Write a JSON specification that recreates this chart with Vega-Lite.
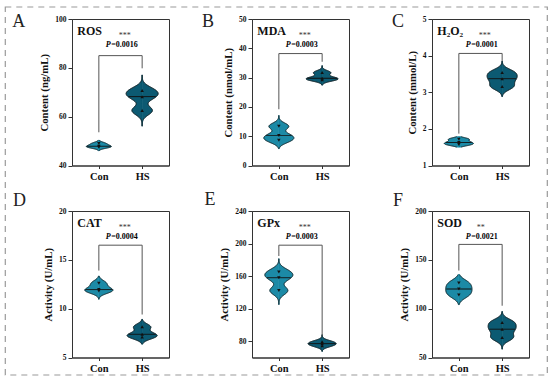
{
"$schema":"https://vega.github.io/schema/vega-lite/v6.json",
"background":"white",
"padding":{"left":4,"top":5,"right":0,"bottom":0},
"bounds":"flush",
"columns":3,
"spacing":{"row":45,"column":83},
"config":{
 "font":"Liberation Serif",
 "view":{"stroke":"#333","strokeWidth":1},
 "axis":{"grid":false,"labelOverlap":false,"labelFont":"Liberation Serif","titleFont":"Liberation Serif","labelFontWeight":"bold","titleFontWeight":"bold","labelColor":"#111","titleColor":"#111","domainColor":"#333","tickColor":"#333","domainWidth":1,"tickWidth":1},
 "axisY":{"labelFontSize":7.5,"titleFontSize":10.8,"tickSize":4,"labelPadding":2,"titlePadding":5},
 "axisX":{"labelFontSize":10.5,"tickSize":3,"labelPadding":3,"labelAngle":0}
},
"concat":[
{"width":97,"height":146.5,
 "data":{"values":[{"group":"Con","value":49.0},{"group":"Con","value":47.9},{"group":"Con","value":47.5},{"group":"HS","value":70.7},{"group":"HS","value":68.2},{"group":"HS","value":62.5}]},
 "resolve":{"scale":{"x":"independent"}},
 "layer":[
  {"layer":[
   {"data":{"values":[{}]},"mark":{"type":"rect","fill":"transparent","stroke":"#9a9a9a","strokeDash":[6,5],"strokeWidth":1.2},"encoding":{"x":{"datum":-3.3233,"type":"quantitative","scale":{"domain":[-0.9538,2.492],"nice":false,"zero":false},"axis":null},"x2":{"datum":15.931},"y":{"datum":104.915,"type":"quantitative","scale":{"domain":[40,100],"nice":false,"zero":false}},"y2":{"datum":-45.8}}},
   {"transform":[{"filter":"datum.group==='Con'"},{"density":"value","bandwidth":0.6,"extent":[46.0,50.4],"steps":120}],"mark":{"type":"area","orient":"horizontal","fill":"#1c8aa6","stroke":"#1c8aa6","strokeWidth":0.5,"opacity":1,"line":{"color":"#111","strokeWidth":0.8,"orient":"horizontal"}},"encoding":{"y":{"field":"value","type":"quantitative","scale":{"domain":[40,100],"nice":false,"zero":false},"axis":{"values":[40,60,80,100],"tickCount":12,"format":"d","labelOverlap":false,"title":"Content (ng/mL)"}},"x":{"field":"density","type":"quantitative","stack":null,"scale":{"domain":[-0.9538,2.492],"nice":false,"zero":false},"axis":null}}}
  ]},
  {"transform":[{"filter":"datum.group==='Con'"},{"density":"value","bandwidth":0.6,"extent":[46.0,50.4],"steps":120}],"mark":{"type":"area","orient":"horizontal","fill":"#1c8aa6","stroke":"#1c8aa6","strokeWidth":0.5,"opacity":1,"line":{"color":"#111","strokeWidth":0.8,"orient":"horizontal"}},"encoding":{"y":{"field":"value","type":"quantitative","scale":{"domain":[40,100],"nice":false,"zero":false}},"x":{"field":"density","type":"quantitative","stack":null,"scale":{"domain":[-2.492,0.9538],"nice":false,"zero":false,"reverse":true},"axis":null}}},
  {"transform":[{"filter":"datum.group==='HS'"},{"density":"value","bandwidth":1.8,"extent":[56.1,77.1],"steps":120}],"mark":{"type":"area","orient":"horizontal","fill":"#0c5a72","stroke":"#0c5a72","strokeWidth":0.5,"opacity":1,"line":{"color":"#111","strokeWidth":0.8,"orient":"horizontal"}},"encoding":{"y":{"field":"value","type":"quantitative","scale":{"domain":[40,100],"nice":false,"zero":false}},"x":{"field":"density","type":"quantitative","stack":null,"scale":{"domain":[-0.50944,0.19499],"nice":false,"zero":false},"axis":null}}},
  {"transform":[{"filter":"datum.group==='HS'"},{"density":"value","bandwidth":1.8,"extent":[56.1,77.1],"steps":120}],"mark":{"type":"area","orient":"horizontal","fill":"#0c5a72","stroke":"#0c5a72","strokeWidth":0.5,"opacity":1,"line":{"color":"#111","strokeWidth":0.8,"orient":"horizontal"}},"encoding":{"y":{"field":"value","type":"quantitative","scale":{"domain":[40,100],"nice":false,"zero":false}},"x":{"field":"density","type":"quantitative","stack":null,"scale":{"domain":[-0.19499,0.50944],"nice":false,"zero":false,"reverse":true},"axis":null}}},
  {"layer":[
   {"mark":{"type":"tick","color":"#111","thickness":0.9,"strokeDash":[3,2]},"encoding":{"x":{"field":"group","type":"nominal","scale":{"type":"point","domain":["Con","HS"],"padding":0.62}},"y":{"aggregate":"median","field":"value","type":"quantitative","scale":{"domain":[40,100],"nice":false,"zero":false}},"size":{"condition":{"test":"datum.group==='Con'","value":23.8},"value":27.2}}},
   {"mark":{"type":"point","filled":true,"color":"#111","size":12,"opacity":1},"encoding":{"x":{"field":"group","type":"nominal","scale":{"type":"point","domain":["Con","HS"],"padding":0.62},"axis":{"title":null}},"y":{"field":"value","type":"quantitative","scale":{"domain":[40,100],"nice":false,"zero":false}},"shape":{"condition":{"test":"datum.group==='Con'","value":"triangle-down"},"value":"triangle-up"}}},
   {"data":{"values":[{}]},"mark":{"type":"rule","color":"#555","strokeWidth":1},"encoding":{"x":{"datum":"Con","type":"nominal","scale":{"type":"point","domain":["Con","HS"],"padding":0.62}},"x2":{"datum":"HS"},"y":{"datum":85,"type":"quantitative","scale":{"domain":[40,100],"nice":false,"zero":false}}}},
   {"data":{"values":[{}]},"mark":{"type":"rule","color":"#555","strokeWidth":1},"encoding":{"x":{"datum":"Con","type":"nominal","scale":{"type":"point","domain":["Con","HS"],"padding":0.62}},"y":{"datum":85,"type":"quantitative","scale":{"domain":[40,100],"nice":false,"zero":false}},"y2":{"datum":53.6}}},
   {"data":{"values":[{}]},"mark":{"type":"rule","color":"#555","strokeWidth":1},"encoding":{"x":{"datum":"HS","type":"nominal","scale":{"type":"point","domain":["Con","HS"],"padding":0.62}},"y":{"datum":85,"type":"quantitative","scale":{"domain":[40,100],"nice":false,"zero":false}},"y2":{"datum":79.8}}},
   {"data":{"values":[{}]},"mark":{"type":"text","text":"ROS","align":"left","baseline":"alphabetic","dx":-21.5,"fontSize":12,"fontWeight":"bold","color":"#111"},"encoding":{"x":{"datum":"Con","type":"nominal","scale":{"type":"point","domain":["Con","HS"],"padding":0.62}},"y":{"datum":93.61,"type":"quantitative","scale":{"domain":[40,100],"nice":false,"zero":false}}}},
   {"data":{"values":[{}]},"mark":{"type":"text","text":"***","align":"center","baseline":"alphabetic","dx":26,"fontSize":8,"color":"#333"},"encoding":{"x":{"datum":"Con","type":"nominal","scale":{"type":"point","domain":["Con","HS"],"padding":0.62}},"y":{"datum":92.3,"type":"quantitative","scale":{"domain":[40,100],"nice":false,"zero":false}}}},
   {"data":{"values":[{}]},"mark":{"type":"text","text":"P","align":"left","baseline":"alphabetic","dx":7,"fontSize":8,"fontWeight":"bold","fontStyle":"italic","color":"#000"},"encoding":{"x":{"datum":"Con","type":"nominal","scale":{"type":"point","domain":["Con","HS"],"padding":0.62}},"y":{"datum":88.41,"type":"quantitative","scale":{"domain":[40,100],"nice":false,"zero":false}}}},
   {"data":{"values":[{}]},"mark":{"type":"text","text":"=0.0016","align":"left","baseline":"alphabetic","dx":12.4,"fontSize":8,"fontWeight":"bold","color":"#000"},"encoding":{"x":{"datum":"Con","type":"nominal","scale":{"type":"point","domain":["Con","HS"],"padding":0.62}},"y":{"datum":88.41,"type":"quantitative","scale":{"domain":[40,100],"nice":false,"zero":false}}}},
   {"data":{"values":[{}]},"mark":{"type":"text","text":"A","align":"left","baseline":"alphabetic","dx":-86.5,"fontSize":18,"color":"#222"},"encoding":{"x":{"datum":"Con","type":"nominal","scale":{"type":"point","domain":["Con","HS"],"padding":0.62}},"y":{"datum":96.6,"type":"quantitative","scale":{"domain":[40,100],"nice":false,"zero":false}}}}
  ]}
 ]},
{"width":97,"height":146.5,
 "data":{"values":[{"group":"Con","value":13.4},{"group":"Con","value":10.2},{"group":"Con","value":8.6},{"group":"HS","value":31.7},{"group":"HS","value":29.8},{"group":"HS","value":29.3}]},
 "resolve":{"scale":{"x":"independent"}},
 "layer":[
  {"transform":[{"filter":"datum.group==='Con'"},{"density":"value","bandwidth":1.1,"extent":[5.7,17.1],"steps":120}],"mark":{"type":"area","orient":"horizontal","fill":"#1c8aa6","stroke":"#1c8aa6","strokeWidth":0.5,"opacity":1,"line":{"color":"#111","strokeWidth":0.8,"orient":"horizontal"}},"encoding":{"y":{"field":"value","type":"quantitative","scale":{"domain":[0,50],"nice":false,"zero":false},"axis":{"values":[0,10,20,30,40,50],"tickCount":12,"format":"d","labelOverlap":false,"title":"Content (nmol/mL)"}},"x":{"field":"density","type":"quantitative","stack":null,"scale":{"domain":[-0.3323,0.8682],"nice":false,"zero":false},"axis":null}}},
  {"transform":[{"filter":"datum.group==='Con'"},{"density":"value","bandwidth":1.1,"extent":[5.7,17.1],"steps":120}],"mark":{"type":"area","orient":"horizontal","fill":"#1c8aa6","stroke":"#1c8aa6","strokeWidth":0.5,"opacity":1,"line":{"color":"#111","strokeWidth":0.8,"orient":"horizontal"}},"encoding":{"y":{"field":"value","type":"quantitative","scale":{"domain":[0,50],"nice":false,"zero":false}},"x":{"field":"density","type":"quantitative","stack":null,"scale":{"domain":[-0.8682,0.3323],"nice":false,"zero":false,"reverse":true},"axis":null}}},
  {"transform":[{"filter":"datum.group==='HS'"},{"density":"value","bandwidth":0.7,"extent":[27.4,34.1],"steps":120}],"mark":{"type":"area","orient":"horizontal","fill":"#0c5a72","stroke":"#0c5a72","strokeWidth":0.5,"opacity":1,"line":{"color":"#111","strokeWidth":0.8,"orient":"horizontal"}},"encoding":{"y":{"field":"value","type":"quantitative","scale":{"domain":[0,50],"nice":false,"zero":false}},"x":{"field":"density","type":"quantitative","stack":null,"scale":{"domain":[-1.5694,0.6007],"nice":false,"zero":false},"axis":null}}},
  {"transform":[{"filter":"datum.group==='HS'"},{"density":"value","bandwidth":0.7,"extent":[27.4,34.1],"steps":120}],"mark":{"type":"area","orient":"horizontal","fill":"#0c5a72","stroke":"#0c5a72","strokeWidth":0.5,"opacity":1,"line":{"color":"#111","strokeWidth":0.8,"orient":"horizontal"}},"encoding":{"y":{"field":"value","type":"quantitative","scale":{"domain":[0,50],"nice":false,"zero":false}},"x":{"field":"density","type":"quantitative","stack":null,"scale":{"domain":[-0.6007,1.5694],"nice":false,"zero":false,"reverse":true},"axis":null}}},
  {"layer":[
   {"mark":{"type":"tick","color":"#111","thickness":0.9,"strokeDash":[3,2]},"encoding":{"x":{"field":"group","type":"nominal","scale":{"type":"point","domain":["Con","HS"],"padding":0.62}},"y":{"aggregate":"median","field":"value","type":"quantitative","scale":{"domain":[0,50],"nice":false,"zero":false}},"size":{"condition":{"test":"datum.group==='Con'","value":25.6},"value":29.6}}},
   {"mark":{"type":"point","filled":true,"color":"#111","size":12,"opacity":1},"encoding":{"x":{"field":"group","type":"nominal","scale":{"type":"point","domain":["Con","HS"],"padding":0.62},"axis":{"title":null}},"y":{"field":"value","type":"quantitative","scale":{"domain":[0,50],"nice":false,"zero":false}},"shape":{"condition":{"test":"datum.group==='Con'","value":"triangle-down"},"value":"triangle-up"}}},
   {"data":{"values":[{}]},"mark":{"type":"rule","color":"#555","strokeWidth":1},"encoding":{"x":{"datum":"Con","type":"nominal","scale":{"type":"point","domain":["Con","HS"],"padding":0.62}},"x2":{"datum":"HS"},"y":{"datum":38.2,"type":"quantitative","scale":{"domain":[0,50],"nice":false,"zero":false}}}},
   {"data":{"values":[{}]},"mark":{"type":"rule","color":"#555","strokeWidth":1},"encoding":{"x":{"datum":"Con","type":"nominal","scale":{"type":"point","domain":["Con","HS"],"padding":0.62}},"y":{"datum":38.2,"type":"quantitative","scale":{"domain":[0,50],"nice":false,"zero":false}},"y2":{"datum":19.2}}},
   {"data":{"values":[{}]},"mark":{"type":"rule","color":"#555","strokeWidth":1},"encoding":{"x":{"datum":"HS","type":"nominal","scale":{"type":"point","domain":["Con","HS"],"padding":0.62}},"y":{"datum":38.2,"type":"quantitative","scale":{"domain":[0,50],"nice":false,"zero":false}},"y2":{"datum":35.4}}},
   {"data":{"values":[{}]},"mark":{"type":"text","text":"MDA","align":"left","baseline":"alphabetic","dx":-21.5,"fontSize":12,"fontWeight":"bold","color":"#111"},"encoding":{"x":{"datum":"Con","type":"nominal","scale":{"type":"point","domain":["Con","HS"],"padding":0.62}},"y":{"datum":44.68,"type":"quantitative","scale":{"domain":[0,50],"nice":false,"zero":false}}}},
   {"data":{"values":[{}]},"mark":{"type":"text","text":"***","align":"center","baseline":"alphabetic","dx":26,"fontSize":8,"color":"#333"},"encoding":{"x":{"datum":"Con","type":"nominal","scale":{"type":"point","domain":["Con","HS"],"padding":0.62}},"y":{"datum":43.58,"type":"quantitative","scale":{"domain":[0,50],"nice":false,"zero":false}}}},
   {"data":{"values":[{}]},"mark":{"type":"text","text":"P","align":"left","baseline":"alphabetic","dx":7,"fontSize":8,"fontWeight":"bold","fontStyle":"italic","color":"#000"},"encoding":{"x":{"datum":"Con","type":"nominal","scale":{"type":"point","domain":["Con","HS"],"padding":0.62}},"y":{"datum":40.34,"type":"quantitative","scale":{"domain":[0,50],"nice":false,"zero":false}}}},
   {"data":{"values":[{}]},"mark":{"type":"text","text":"=0.0003","align":"left","baseline":"alphabetic","dx":12.4,"fontSize":8,"fontWeight":"bold","color":"#000"},"encoding":{"x":{"datum":"Con","type":"nominal","scale":{"type":"point","domain":["Con","HS"],"padding":0.62}},"y":{"datum":40.34,"type":"quantitative","scale":{"domain":[0,50],"nice":false,"zero":false}}}},
   {"data":{"values":[{}]},"mark":{"type":"text","text":"B","align":"left","baseline":"alphabetic","dx":-76.9,"fontSize":18,"color":"#222"},"encoding":{"x":{"datum":"Con","type":"nominal","scale":{"type":"point","domain":["Con","HS"],"padding":0.62}},"y":{"datum":47.27,"type":"quantitative","scale":{"domain":[0,50],"nice":false,"zero":false}}}}
  ]}
 ]},
{"width":97,"height":146.5,
 "data":{"values":[{"group":"Con","value":1.72},{"group":"Con","value":1.63},{"group":"Con","value":1.57},{"group":"HS","value":3.54},{"group":"HS","value":3.37},{"group":"HS","value":3.16}]},
 "resolve":{"scale":{"x":"independent"}},
 "layer":[
  {"transform":[{"filter":"datum.group==='Con'"},{"density":"value","bandwidth":0.04,"extent":[1.5,1.79],"steps":120}],"mark":{"type":"area","orient":"horizontal","fill":"#1c8aa6","stroke":"#1c8aa6","strokeWidth":0.5,"opacity":1,"line":{"color":"#111","strokeWidth":0.8,"orient":"horizontal"}},"encoding":{"y":{"field":"value","type":"quantitative","scale":{"domain":[1,5],"nice":false,"zero":false},"axis":{"values":[1,2,3,4,5],"tickCount":12,"format":"d","labelOverlap":false,"title":"Content (mmol/L)"}},"x":{"field":"density","type":"quantitative","stack":null,"scale":{"domain":[-9.365,24.468],"nice":false,"zero":false},"axis":null}}},
  {"transform":[{"filter":"datum.group==='Con'"},{"density":"value","bandwidth":0.04,"extent":[1.5,1.79],"steps":120}],"mark":{"type":"area","orient":"horizontal","fill":"#1c8aa6","stroke":"#1c8aa6","strokeWidth":0.5,"opacity":1,"line":{"color":"#111","strokeWidth":0.8,"orient":"horizontal"}},"encoding":{"y":{"field":"value","type":"quantitative","scale":{"domain":[1,5],"nice":false,"zero":false}},"x":{"field":"density","type":"quantitative","stack":null,"scale":{"domain":[-24.468,9.365],"nice":false,"zero":false,"reverse":true},"axis":null}}},
  {"transform":[{"filter":"datum.group==='HS'"},{"density":"value","bandwidth":0.1,"extent":[2.88,3.85],"steps":120}],"mark":{"type":"area","orient":"horizontal","fill":"#0c5a72","stroke":"#0c5a72","strokeWidth":0.5,"opacity":1,"line":{"color":"#111","strokeWidth":0.8,"orient":"horizontal"}},"encoding":{"y":{"field":"value","type":"quantitative","scale":{"domain":[1,5],"nice":false,"zero":false}},"x":{"field":"density","type":"quantitative","stack":null,"scale":{"domain":[-8.75,3.349],"nice":false,"zero":false},"axis":null}}},
  {"transform":[{"filter":"datum.group==='HS'"},{"density":"value","bandwidth":0.1,"extent":[2.88,3.85],"steps":120}],"mark":{"type":"area","orient":"horizontal","fill":"#0c5a72","stroke":"#0c5a72","strokeWidth":0.5,"opacity":1,"line":{"color":"#111","strokeWidth":0.8,"orient":"horizontal"}},"encoding":{"y":{"field":"value","type":"quantitative","scale":{"domain":[1,5],"nice":false,"zero":false}},"x":{"field":"density","type":"quantitative","stack":null,"scale":{"domain":[-3.349,8.75],"nice":false,"zero":false,"reverse":true},"axis":null}}},
  {"layer":[
   {"mark":{"type":"tick","color":"#111","thickness":0.9,"strokeDash":[3,2]},"encoding":{"x":{"field":"group","type":"nominal","scale":{"type":"point","domain":["Con","HS"],"padding":0.62}},"y":{"aggregate":"median","field":"value","type":"quantitative","scale":{"domain":[1,5],"nice":false,"zero":false}},"size":{"condition":{"test":"datum.group==='Con'","value":25.8},"value":27.7}}},
   {"mark":{"type":"point","filled":true,"color":"#111","size":12,"opacity":1},"encoding":{"x":{"field":"group","type":"nominal","scale":{"type":"point","domain":["Con","HS"],"padding":0.62},"axis":{"title":null}},"y":{"field":"value","type":"quantitative","scale":{"domain":[1,5],"nice":false,"zero":false}},"shape":{"condition":{"test":"datum.group==='Con'","value":"triangle-down"},"value":"triangle-up"}}},
   {"data":{"values":[{}]},"mark":{"type":"rule","color":"#555","strokeWidth":1},"encoding":{"x":{"datum":"Con","type":"nominal","scale":{"type":"point","domain":["Con","HS"],"padding":0.62}},"x2":{"datum":"HS"},"y":{"datum":4.06,"type":"quantitative","scale":{"domain":[1,5],"nice":false,"zero":false}}}},
   {"data":{"values":[{}]},"mark":{"type":"rule","color":"#555","strokeWidth":1},"encoding":{"x":{"datum":"Con","type":"nominal","scale":{"type":"point","domain":["Con","HS"],"padding":0.62}},"y":{"datum":4.06,"type":"quantitative","scale":{"domain":[1,5],"nice":false,"zero":false}},"y2":{"datum":1.87}}},
   {"data":{"values":[{}]},"mark":{"type":"rule","color":"#555","strokeWidth":1},"encoding":{"x":{"datum":"HS","type":"nominal","scale":{"type":"point","domain":["Con","HS"],"padding":0.62}},"y":{"datum":4.06,"type":"quantitative","scale":{"domain":[1,5],"nice":false,"zero":false}},"y2":{"datum":3.85}}},
   {"data":{"values":[{}]},"mark":{"type":"text","text":"H₂O₂","align":"left","baseline":"alphabetic","dx":-21.5,"fontSize":12,"fontWeight":"bold","color":"#111"},"encoding":{"x":{"datum":"Con","type":"nominal","scale":{"type":"point","domain":["Con","HS"],"padding":0.62}},"y":{"datum":4.574,"type":"quantitative","scale":{"domain":[1,5],"nice":false,"zero":false}}}},
   {"data":{"values":[{}]},"mark":{"type":"text","text":"***","align":"center","baseline":"alphabetic","dx":26,"fontSize":8,"color":"#333"},"encoding":{"x":{"datum":"Con","type":"nominal","scale":{"type":"point","domain":["Con","HS"],"padding":0.62}},"y":{"datum":4.487,"type":"quantitative","scale":{"domain":[1,5],"nice":false,"zero":false}}}},
   {"data":{"values":[{}]},"mark":{"type":"text","text":"P","align":"left","baseline":"alphabetic","dx":7,"fontSize":8,"fontWeight":"bold","fontStyle":"italic","color":"#000"},"encoding":{"x":{"datum":"Con","type":"nominal","scale":{"type":"point","domain":["Con","HS"],"padding":0.62}},"y":{"datum":4.227,"type":"quantitative","scale":{"domain":[1,5],"nice":false,"zero":false}}}},
   {"data":{"values":[{}]},"mark":{"type":"text","text":"=0.0001","align":"left","baseline":"alphabetic","dx":12.4,"fontSize":8,"fontWeight":"bold","color":"#000"},"encoding":{"x":{"datum":"Con","type":"nominal","scale":{"type":"point","domain":["Con","HS"],"padding":0.62}},"y":{"datum":4.227,"type":"quantitative","scale":{"domain":[1,5],"nice":false,"zero":false}}}},
   {"data":{"values":[{}]},"mark":{"type":"text","text":"C","align":"left","baseline":"alphabetic","dx":-66.9,"fontSize":18,"color":"#222"},"encoding":{"x":{"datum":"Con","type":"nominal","scale":{"type":"point","domain":["Con","HS"],"padding":0.62}},"y":{"datum":4.78,"type":"quantitative","scale":{"domain":[1,5],"nice":false,"zero":false}}}}
  ]}
 ]},
{"width":97,"height":146.5,
 "data":{"values":[{"group":"Con","value":12.6},{"group":"Con","value":11.95},{"group":"Con","value":11.8},{"group":"HS","value":8.14},{"group":"HS","value":7.38},{"group":"HS","value":7.1}]},
 "resolve":{"scale":{"x":"independent"}},
 "layer":[
  {"transform":[{"filter":"datum.group==='Con'"},{"density":"value","bandwidth":0.3,"extent":[10.96,13.35],"steps":120}],"mark":{"type":"area","orient":"horizontal","fill":"#1c8aa6","stroke":"#1c8aa6","strokeWidth":0.5,"opacity":1,"line":{"color":"#111","strokeWidth":0.8,"orient":"horizontal"}},"encoding":{"y":{"field":"value","type":"quantitative","scale":{"domain":[5,20],"nice":false,"zero":false},"axis":{"values":[5,10,15,20],"tickCount":12,"format":"d","labelOverlap":false,"title":"Activity (U/mL)"}},"x":{"field":"density","type":"quantitative","stack":null,"scale":{"domain":[-1.692,4.42],"nice":false,"zero":false},"axis":null}}},
  {"transform":[{"filter":"datum.group==='Con'"},{"density":"value","bandwidth":0.3,"extent":[10.96,13.35],"steps":120}],"mark":{"type":"area","orient":"horizontal","fill":"#1c8aa6","stroke":"#1c8aa6","strokeWidth":0.5,"opacity":1,"line":{"color":"#111","strokeWidth":0.8,"orient":"horizontal"}},"encoding":{"y":{"field":"value","type":"quantitative","scale":{"domain":[5,20],"nice":false,"zero":false}},"x":{"field":"density","type":"quantitative","stack":null,"scale":{"domain":[-4.42,1.692],"nice":false,"zero":false,"reverse":true},"axis":null}}},
  {"transform":[{"filter":"datum.group==='HS'"},{"density":"value","bandwidth":0.3,"extent":[6.36,8.92],"steps":120}],"mark":{"type":"area","orient":"horizontal","fill":"#0c5a72","stroke":"#0c5a72","strokeWidth":0.5,"opacity":1,"line":{"color":"#111","strokeWidth":0.8,"orient":"horizontal"}},"encoding":{"y":{"field":"value","type":"quantitative","scale":{"domain":[5,20],"nice":false,"zero":false}},"x":{"field":"density","type":"quantitative","stack":null,"scale":{"domain":[-3.741,1.432],"nice":false,"zero":false},"axis":null}}},
  {"transform":[{"filter":"datum.group==='HS'"},{"density":"value","bandwidth":0.3,"extent":[6.36,8.92],"steps":120}],"mark":{"type":"area","orient":"horizontal","fill":"#0c5a72","stroke":"#0c5a72","strokeWidth":0.5,"opacity":1,"line":{"color":"#111","strokeWidth":0.8,"orient":"horizontal"}},"encoding":{"y":{"field":"value","type":"quantitative","scale":{"domain":[5,20],"nice":false,"zero":false}},"x":{"field":"density","type":"quantitative","stack":null,"scale":{"domain":[-1.432,3.741],"nice":false,"zero":false,"reverse":true},"axis":null}}},
  {"layer":[
   {"mark":{"type":"tick","color":"#111","thickness":0.9,"strokeDash":[3,2]},"encoding":{"x":{"field":"group","type":"nominal","scale":{"type":"point","domain":["Con","HS"],"padding":0.62}},"y":{"aggregate":"median","field":"value","type":"quantitative","scale":{"domain":[5,20],"nice":false,"zero":false}},"size":{"condition":{"test":"datum.group==='Con'","value":26.8},"value":27}}},
   {"mark":{"type":"point","filled":true,"color":"#111","size":12,"opacity":1},"encoding":{"x":{"field":"group","type":"nominal","scale":{"type":"point","domain":["Con","HS"],"padding":0.62},"axis":{"title":null}},"y":{"field":"value","type":"quantitative","scale":{"domain":[5,20],"nice":false,"zero":false}},"shape":{"condition":{"test":"datum.group==='Con'","value":"triangle-down"},"value":"triangle-up"}}},
   {"data":{"values":[{}]},"mark":{"type":"rule","color":"#555","strokeWidth":1},"encoding":{"x":{"datum":"Con","type":"nominal","scale":{"type":"point","domain":["Con","HS"],"padding":0.62}},"x2":{"datum":"HS"},"y":{"datum":16.5,"type":"quantitative","scale":{"domain":[5,20],"nice":false,"zero":false}}}},
   {"data":{"values":[{}]},"mark":{"type":"rule","color":"#555","strokeWidth":1},"encoding":{"x":{"datum":"Con","type":"nominal","scale":{"type":"point","domain":["Con","HS"],"padding":0.62}},"y":{"datum":16.5,"type":"quantitative","scale":{"domain":[5,20],"nice":false,"zero":false}},"y2":{"datum":13.9}}},
   {"data":{"values":[{}]},"mark":{"type":"rule","color":"#555","strokeWidth":1},"encoding":{"x":{"datum":"HS","type":"nominal","scale":{"type":"point","domain":["Con","HS"],"padding":0.62}},"y":{"datum":16.5,"type":"quantitative","scale":{"domain":[5,20],"nice":false,"zero":false}},"y2":{"datum":9.4}}},
   {"data":{"values":[{}]},"mark":{"type":"text","text":"CAT","align":"left","baseline":"alphabetic","dx":-21.5,"fontSize":12,"fontWeight":"bold","color":"#111"},"encoding":{"x":{"datum":"Con","type":"nominal","scale":{"type":"point","domain":["Con","HS"],"padding":0.62}},"y":{"datum":18.4,"type":"quantitative","scale":{"domain":[5,20],"nice":false,"zero":false}}}},
   {"data":{"values":[{}]},"mark":{"type":"text","text":"***","align":"center","baseline":"alphabetic","dx":26,"fontSize":8,"color":"#333"},"encoding":{"x":{"datum":"Con","type":"nominal","scale":{"type":"point","domain":["Con","HS"],"padding":0.62}},"y":{"datum":18.07,"type":"quantitative","scale":{"domain":[5,20],"nice":false,"zero":false}}}},
   {"data":{"values":[{}]},"mark":{"type":"text","text":"P","align":"left","baseline":"alphabetic","dx":7,"fontSize":8,"fontWeight":"bold","fontStyle":"italic","color":"#000"},"encoding":{"x":{"datum":"Con","type":"nominal","scale":{"type":"point","domain":["Con","HS"],"padding":0.62}},"y":{"datum":17.1,"type":"quantitative","scale":{"domain":[5,20],"nice":false,"zero":false}}}},
   {"data":{"values":[{}]},"mark":{"type":"text","text":"=0.0004","align":"left","baseline":"alphabetic","dx":12.4,"fontSize":8,"fontWeight":"bold","color":"#000"},"encoding":{"x":{"datum":"Con","type":"nominal","scale":{"type":"point","domain":["Con","HS"],"padding":0.62}},"y":{"datum":17.1,"type":"quantitative","scale":{"domain":[5,20],"nice":false,"zero":false}}}},
   {"data":{"values":[{}]},"mark":{"type":"text","text":"D","align":"left","baseline":"alphabetic","dx":-85.9,"fontSize":18,"color":"#222"},"encoding":{"x":{"datum":"Con","type":"nominal","scale":{"type":"point","domain":["Con","HS"],"padding":0.62}},"y":{"datum":20.53,"type":"quantitative","scale":{"domain":[5,20],"nice":false,"zero":false}}}}
  ]}
 ]},
{"width":97,"height":146.5,
 "data":{"values":[{"group":"Con","value":165},{"group":"Con","value":158},{"group":"Con","value":142.2},{"group":"HS","value":79.5},{"group":"HS","value":77},{"group":"HS","value":74.5}]},
 "resolve":{"scale":{"x":"independent"}},
 "layer":[
  {"transform":[{"filter":"datum.group==='Con'"},{"density":"value","bandwidth":5,"extent":[125,181.4],"steps":120}],"mark":{"type":"area","orient":"horizontal","fill":"#1c8aa6","stroke":"#1c8aa6","strokeWidth":0.5,"opacity":1,"line":{"color":"#111","strokeWidth":0.8,"orient":"horizontal"}},"encoding":{"y":{"field":"value","type":"quantitative","scale":{"domain":[60,240],"nice":false,"zero":false},"axis":{"values":[80,120,160,200,240],"tickCount":12,"format":"d","labelOverlap":false,"title":"Activity (U/mL)"}},"x":{"field":"density","type":"quantitative","stack":null,"scale":{"domain":[-0.07989,0.20872],"nice":false,"zero":false},"axis":null}}},
  {"transform":[{"filter":"datum.group==='Con'"},{"density":"value","bandwidth":5,"extent":[125,181.4],"steps":120}],"mark":{"type":"area","orient":"horizontal","fill":"#1c8aa6","stroke":"#1c8aa6","strokeWidth":0.5,"opacity":1,"line":{"color":"#111","strokeWidth":0.8,"orient":"horizontal"}},"encoding":{"y":{"field":"value","type":"quantitative","scale":{"domain":[60,240],"nice":false,"zero":false}},"x":{"field":"density","type":"quantitative","stack":null,"scale":{"domain":[-0.20872,0.07989],"nice":false,"zero":false,"reverse":true},"axis":null}}},
  {"transform":[{"filter":"datum.group==='HS'"},{"density":"value","bandwidth":2.5,"extent":[67.4,88],"steps":120}],"mark":{"type":"area","orient":"horizontal","fill":"#0c5a72","stroke":"#0c5a72","strokeWidth":0.5,"opacity":1,"line":{"color":"#111","strokeWidth":0.8,"orient":"horizontal"}},"encoding":{"y":{"field":"value","type":"quantitative","scale":{"domain":[60,240],"nice":false,"zero":false}},"x":{"field":"density","type":"quantitative","stack":null,"scale":{"domain":[-0.58999,0.22582],"nice":false,"zero":false},"axis":null}}},
  {"transform":[{"filter":"datum.group==='HS'"},{"density":"value","bandwidth":2.5,"extent":[67.4,88],"steps":120}],"mark":{"type":"area","orient":"horizontal","fill":"#0c5a72","stroke":"#0c5a72","strokeWidth":0.5,"opacity":1,"line":{"color":"#111","strokeWidth":0.8,"orient":"horizontal"}},"encoding":{"y":{"field":"value","type":"quantitative","scale":{"domain":[60,240],"nice":false,"zero":false}},"x":{"field":"density","type":"quantitative","stack":null,"scale":{"domain":[-0.22582,0.58999],"nice":false,"zero":false,"reverse":true},"axis":null}}},
  {"layer":[
   {"mark":{"type":"tick","color":"#111","thickness":0.9,"strokeDash":[3,2]},"encoding":{"x":{"field":"group","type":"nominal","scale":{"type":"point","domain":["Con","HS"],"padding":0.62}},"y":{"aggregate":"median","field":"value","type":"quantitative","scale":{"domain":[60,240],"nice":false,"zero":false}},"size":{"condition":{"test":"datum.group==='Con'","value":23.7},"value":27}}},
   {"mark":{"type":"point","filled":true,"color":"#111","size":12,"opacity":1},"encoding":{"x":{"field":"group","type":"nominal","scale":{"type":"point","domain":["Con","HS"],"padding":0.62},"axis":{"title":null}},"y":{"field":"value","type":"quantitative","scale":{"domain":[60,240],"nice":false,"zero":false}},"shape":{"condition":{"test":"datum.group==='Con'","value":"triangle-down"},"value":"triangle-up"}}},
   {"data":{"values":[{}]},"mark":{"type":"rule","color":"#555","strokeWidth":1},"encoding":{"x":{"datum":"Con","type":"nominal","scale":{"type":"point","domain":["Con","HS"],"padding":0.62}},"x2":{"datum":"HS"},"y":{"datum":198,"type":"quantitative","scale":{"domain":[60,240],"nice":false,"zero":false}}}},
   {"data":{"values":[{}]},"mark":{"type":"rule","color":"#555","strokeWidth":1},"encoding":{"x":{"datum":"Con","type":"nominal","scale":{"type":"point","domain":["Con","HS"],"padding":0.62}},"y":{"datum":198,"type":"quantitative","scale":{"domain":[60,240],"nice":false,"zero":false}},"y2":{"datum":184.7}}},
   {"data":{"values":[{}]},"mark":{"type":"rule","color":"#555","strokeWidth":1},"encoding":{"x":{"datum":"HS","type":"nominal","scale":{"type":"point","domain":["Con","HS"],"padding":0.62}},"y":{"datum":198,"type":"quantitative","scale":{"domain":[60,240],"nice":false,"zero":false}},"y2":{"datum":86}}},
   {"data":{"values":[{}]},"mark":{"type":"text","text":"GPx","align":"left","baseline":"alphabetic","dx":-21.5,"fontSize":12,"fontWeight":"bold","color":"#111"},"encoding":{"x":{"datum":"Con","type":"nominal","scale":{"type":"point","domain":["Con","HS"],"padding":0.62}},"y":{"datum":220.83,"type":"quantitative","scale":{"domain":[60,240],"nice":false,"zero":false}}}},
   {"data":{"values":[{}]},"mark":{"type":"text","text":"***","align":"center","baseline":"alphabetic","dx":26,"fontSize":8,"color":"#333"},"encoding":{"x":{"datum":"Con","type":"nominal","scale":{"type":"point","domain":["Con","HS"],"padding":0.62}},"y":{"datum":216.9,"type":"quantitative","scale":{"domain":[60,240],"nice":false,"zero":false}}}},
   {"data":{"values":[{}]},"mark":{"type":"text","text":"P","align":"left","baseline":"alphabetic","dx":7,"fontSize":8,"fontWeight":"bold","fontStyle":"italic","color":"#000"},"encoding":{"x":{"datum":"Con","type":"nominal","scale":{"type":"point","domain":["Con","HS"],"padding":0.62}},"y":{"datum":205.23,"type":"quantitative","scale":{"domain":[60,240],"nice":false,"zero":false}}}},
   {"data":{"values":[{}]},"mark":{"type":"text","text":"=0.0003","align":"left","baseline":"alphabetic","dx":12.4,"fontSize":8,"fontWeight":"bold","color":"#000"},"encoding":{"x":{"datum":"Con","type":"nominal","scale":{"type":"point","domain":["Con","HS"],"padding":0.62}},"y":{"datum":205.23,"type":"quantitative","scale":{"domain":[60,240],"nice":false,"zero":false}}}},
   {"data":{"values":[{}]},"mark":{"type":"text","text":"E","align":"left","baseline":"alphabetic","dx":-74.3,"fontSize":18,"color":"#222"},"encoding":{"x":{"datum":"Con","type":"nominal","scale":{"type":"point","domain":["Con","HS"],"padding":0.62}},"y":{"datum":246.76,"type":"quantitative","scale":{"domain":[60,240],"nice":false,"zero":false}}}}
  ]}
 ]},
{"width":97,"height":146.5,
 "data":{"values":[{"group":"Con","value":126.3},{"group":"Con","value":120.1},{"group":"Con","value":114},{"group":"HS","value":85.9},{"group":"HS","value":79},{"group":"HS","value":70.5}]},
 "resolve":{"scale":{"x":"independent"}},
 "layer":[
  {"transform":[{"filter":"datum.group==='Con'"},{"density":"value","bandwidth":4,"extent":[104,134.9],"steps":120}],"mark":{"type":"area","orient":"horizontal","fill":"#1c8aa6","stroke":"#1c8aa6","strokeWidth":0.5,"opacity":1,"line":{"color":"#111","strokeWidth":0.8,"orient":"horizontal"}},"encoding":{"y":{"field":"value","type":"quantitative","scale":{"domain":[50,200],"nice":false,"zero":false},"axis":{"values":[50,100,150,200],"tickCount":12,"format":"d","labelOverlap":false,"title":"Activity (U/mL)"}},"x":{"field":"density","type":"quantitative","stack":null,"scale":{"domain":[-0.10986,0.28703],"nice":false,"zero":false},"axis":null}}},
  {"transform":[{"filter":"datum.group==='Con'"},{"density":"value","bandwidth":4,"extent":[104,134.9],"steps":120}],"mark":{"type":"area","orient":"horizontal","fill":"#1c8aa6","stroke":"#1c8aa6","strokeWidth":0.5,"opacity":1,"line":{"color":"#111","strokeWidth":0.8,"orient":"horizontal"}},"encoding":{"y":{"field":"value","type":"quantitative","scale":{"domain":[50,200],"nice":false,"zero":false}},"x":{"field":"density","type":"quantitative","stack":null,"scale":{"domain":[-0.28703,0.10986],"nice":false,"zero":false,"reverse":true},"axis":null}}},
  {"transform":[{"filter":"datum.group==='HS'"},{"density":"value","bandwidth":3.8,"extent":[58.5,97.2],"steps":120}],"mark":{"type":"area","orient":"horizontal","fill":"#0c5a72","stroke":"#0c5a72","strokeWidth":0.5,"opacity":1,"line":{"color":"#111","strokeWidth":0.8,"orient":"horizontal"}},"encoding":{"y":{"field":"value","type":"quantitative","scale":{"domain":[50,200],"nice":false,"zero":false}},"x":{"field":"density","type":"quantitative","stack":null,"scale":{"domain":[-0.23407,0.08959],"nice":false,"zero":false},"axis":null}}},
  {"transform":[{"filter":"datum.group==='HS'"},{"density":"value","bandwidth":3.8,"extent":[58.5,97.2],"steps":120}],"mark":{"type":"area","orient":"horizontal","fill":"#0c5a72","stroke":"#0c5a72","strokeWidth":0.5,"opacity":1,"line":{"color":"#111","strokeWidth":0.8,"orient":"horizontal"}},"encoding":{"y":{"field":"value","type":"quantitative","scale":{"domain":[50,200],"nice":false,"zero":false}},"x":{"field":"density","type":"quantitative","stack":null,"scale":{"domain":[-0.08959,0.23407],"nice":false,"zero":false,"reverse":true},"axis":null}}},
  {"layer":[
   {"mark":{"type":"tick","color":"#111","thickness":0.9,"strokeDash":[3,2]},"encoding":{"x":{"field":"group","type":"nominal","scale":{"type":"point","domain":["Con","HS"],"padding":0.62}},"y":{"aggregate":"median","field":"value","type":"quantitative","scale":{"domain":[50,200],"nice":false,"zero":false}},"size":{"condition":{"test":"datum.group==='Con'","value":25},"value":25.7}}},
   {"mark":{"type":"point","filled":true,"color":"#111","size":12,"opacity":1},"encoding":{"x":{"field":"group","type":"nominal","scale":{"type":"point","domain":["Con","HS"],"padding":0.62},"axis":{"title":null}},"y":{"field":"value","type":"quantitative","scale":{"domain":[50,200],"nice":false,"zero":false}},"shape":{"condition":{"test":"datum.group==='Con'","value":"triangle-down"},"value":"triangle-up"}}},
   {"data":{"values":[{}]},"mark":{"type":"rule","color":"#555","strokeWidth":1},"encoding":{"x":{"datum":"Con","type":"nominal","scale":{"type":"point","domain":["Con","HS"],"padding":0.62}},"x2":{"datum":"HS"},"y":{"datum":165.8,"type":"quantitative","scale":{"domain":[50,200],"nice":false,"zero":false}}}},
   {"data":{"values":[{}]},"mark":{"type":"rule","color":"#555","strokeWidth":1},"encoding":{"x":{"datum":"Con","type":"nominal","scale":{"type":"point","domain":["Con","HS"],"padding":0.62}},"y":{"datum":165.8,"type":"quantitative","scale":{"domain":[50,200],"nice":false,"zero":false}},"y2":{"datum":139}}},
   {"data":{"values":[{}]},"mark":{"type":"rule","color":"#555","strokeWidth":1},"encoding":{"x":{"datum":"HS","type":"nominal","scale":{"type":"point","domain":["Con","HS"],"padding":0.62}},"y":{"datum":165.8,"type":"quantitative","scale":{"domain":[50,200],"nice":false,"zero":false}},"y2":{"datum":103}}},
   {"data":{"values":[{}]},"mark":{"type":"text","text":"SOD","align":"left","baseline":"alphabetic","dx":-21.5,"fontSize":12,"fontWeight":"bold","color":"#111"},"encoding":{"x":{"datum":"Con","type":"nominal","scale":{"type":"point","domain":["Con","HS"],"padding":0.62}},"y":{"datum":184.03,"type":"quantitative","scale":{"domain":[50,200],"nice":false,"zero":false}}}},
   {"data":{"values":[{}]},"mark":{"type":"text","text":"**","align":"center","baseline":"alphabetic","dx":22,"fontSize":8,"color":"#333"},"encoding":{"x":{"datum":"Con","type":"nominal","scale":{"type":"point","domain":["Con","HS"],"padding":0.62}},"y":{"datum":180.75,"type":"quantitative","scale":{"domain":[50,200],"nice":false,"zero":false}}}},
   {"data":{"values":[{}]},"mark":{"type":"text","text":"P","align":"left","baseline":"alphabetic","dx":7,"fontSize":8,"fontWeight":"bold","fontStyle":"italic","color":"#000"},"encoding":{"x":{"datum":"Con","type":"nominal","scale":{"type":"point","domain":["Con","HS"],"padding":0.62}},"y":{"datum":171.02,"type":"quantitative","scale":{"domain":[50,200],"nice":false,"zero":false}}}},
   {"data":{"values":[{}]},"mark":{"type":"text","text":"=0.0021","align":"left","baseline":"alphabetic","dx":12.4,"fontSize":8,"fontWeight":"bold","color":"#000"},"encoding":{"x":{"datum":"Con","type":"nominal","scale":{"type":"point","domain":["Con","HS"],"padding":0.62}},"y":{"datum":171.02,"type":"quantitative","scale":{"domain":[50,200],"nice":false,"zero":false}}}},
   {"data":{"values":[{}]},"mark":{"type":"text","text":"F","align":"left","baseline":"alphabetic","dx":-65.9,"fontSize":18,"color":"#222"},"encoding":{"x":{"datum":"Con","type":"nominal","scale":{"type":"point","domain":["Con","HS"],"padding":0.62}},"y":{"datum":205.63,"type":"quantitative","scale":{"domain":[50,200],"nice":false,"zero":false}}}}
  ]}
 ]}
]
}
